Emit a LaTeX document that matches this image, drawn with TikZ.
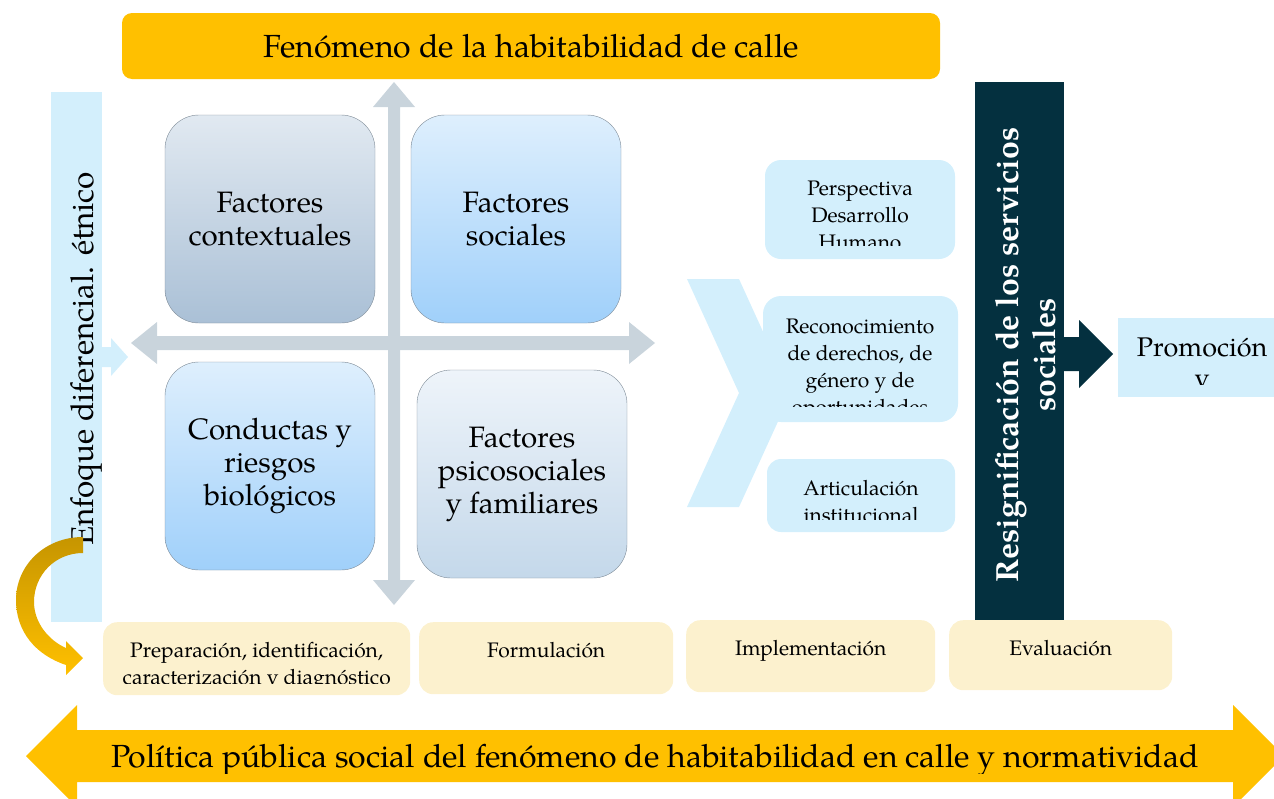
\documentclass[tikz,border=0pt]{standalone}
\usepackage{fontspec}
\setmainfont{TeX Gyre Pagella}
\usepackage{xcolor}
\usetikzlibrary{positioning}
\definecolor{gold}{HTML}{FFC000}
\definecolor{darkgold}{HTML}{C69500}
\definecolor{skyblue}{HTML}{D3EFFC}
\definecolor{crossgray}{HTML}{C9D4DC}
\definecolor{cream}{HTML}{FCF1CE}
\definecolor{navy}{HTML}{04303F}
\definecolor{edgegray}{HTML}{7D8A96}
\tikzset{
  quad/.style={draw=edgegray, rounded corners=34pt, minimum width=210, minimum height=208,
    align=center, font=\fontsize{29.5}{33}\selectfont},
  sidetext/.style={align=center, anchor=north, inner sep=0pt, font=\fontsize{21}{27}\selectfont},
  stagebox/.style={fill=cream, rounded corners=14pt, inner sep=0pt},
  stagetext/.style={align=center, anchor=north, inner sep=0pt, font=\fontsize{21}{27}\selectfont},
}
\begin{document}
\begin{tikzpicture}[x=1pt, y=-1pt]
\useasboundingbox (0,0) rectangle (1274,798);
%top bar
\node[fill=gold, rounded corners=10pt, minimum width=818, minimum height=66,
  font=\fontsize{32}{36}\selectfont] (fenomeno) at (531,46) {Fenómeno de la habitabilidad de calle};
%left bar
\fill[skyblue] (51,92) rectangle (102,622);
\node[rotate=90, font=\fontsize{31.5}{36}\selectfont] (enfoque) at (86,359) {Enfoque diferencial. étnico};
\fill[skyblue] (102,347) -- (111,347) -- (111,338) -- (128,357) -- (111,376) -- (111,367) -- (102,367) --cycle; %small arrow
%cross of arrows
\fill[crossgray] (388,580) -- (388,107) -- (373,107) -- (394,82) -- (415,107) -- (400,107) -- (400,580) -- (415,580) -- (394,605) -- (373,580) --cycle; %vertical
\fill[crossgray] (157,336) -- (629,336) -- (629,322) -- (655,343) -- (629,364) -- (629,350) -- (157,350) -- (157,364) -- (131,343) -- (157,322) --cycle; %horizontal
%four factors
\node[quad, top color={rgb,255:red,225;green,233;blue,241}, bottom color={rgb,255:red,170;green,192;blue,214}] (contexto) at (270,219) {Factores\\contextuales};
\node[quad, top color={rgb,255:red,222;green,239;blue,253}, bottom color={rgb,255:red,160;green,208;blue,250}] (social) at (516,219) {Factores\\sociales};
\node[quad, top color={rgb,255:red,222;green,239;blue,253}, bottom color={rgb,255:red,160;green,208;blue,250}] (conducta) at (270,466) {Conductas y\\riesgos\\biológicos};
\node[quad, top color={rgb,255:red,238;green,244;blue,250}, bottom color={rgb,255:red,196;green,216;blue,234}] (psico) at (522,474) {Factores\\psicosociales\\y familiares};
%chevron
\fill[skyblue] (687,279) -- (739,279) -- (791,393) -- (739,507) -- (687,507) -- (739,393) --cycle;
%right boxes
\fill[skyblue, rounded corners=16pt] (765,160) rectangle (955,259);
\begin{scope}
\clip (765,160) rectangle (955,245);
\node[sidetext] (perspectiva) at (860,181) {Perspectiva\\Desarrollo\\Humano};
\end{scope}
\fill[skyblue, rounded corners=18pt] (763,296) rectangle (958,422);
\begin{scope}
\clip (763,296) rectangle (958,406);
\node[sidetext] (derechos) at (860,319) {Reconocimiento\\de derechos, de\\género y de\\oportunidades};
\end{scope}
\fill[skyblue, rounded corners=14pt] (767,459) rectangle (955,532);
\begin{scope}
\clip (767,459) rectangle (955,519);
\node[sidetext] (articulacion) at (861,480) {Articulación\\institucional};
\end{scope}
%dark bar
\fill[navy] (975,82) rectangle (1064,620);
\node[rotate=90, text=white, align=center, font=\bfseries\fontsize{32}{37}\selectfont] (resignif) at (1026,355) {Resignificación de los servicios\\sociales};
\fill[navy] (1064,337) -- (1079,337) -- (1079,320) -- (1113,354) -- (1079,388) -- (1079,371) -- (1064,371) --cycle; %arrow
\fill[skyblue] (1118,318) rectangle (1274,397);
\begin{scope}
\clip (1118,318) rectangle (1274,384);
\node[sidetext, font=\fontsize{27}{31}\selectfont] (promocion) at (1202,338) {Promoción\\y};
\end{scope}
%stages
\node[stagebox, minimum width=307, minimum height=73, anchor=north west] (preparacion) at (103,622) {};
\node[stagebox, minimum width=254, minimum height=72, anchor=north west] (formulacion) at (419,622) {};
\node[stagebox, minimum width=249, minimum height=72, anchor=north west] (implementacion) at (686,620) {};
\node[stagebox, minimum width=223, minimum height=70, anchor=north west] (evaluacion) at (949,620) {};
\begin{scope}
\clip (103,622) rectangle (410,683);
\node[stagetext, below=20pt of preparacion.north] (preptext) {Preparación, identificación,\\caracterización y diagnóstico};
\end{scope}
\node[stagetext, below=20pt of formulacion.north] (formtext) {Formulación};
\node[stagetext, below=20pt of implementacion.north] (impltext) {Implementación};
\node[stagetext, below=20pt of evaluacion.north] (evaltext) {Evaluación};
%curved arrow
\shade[top color=darkgold, bottom color=gold, middle color=darkgold!50!gold]
  (83,537) .. controls (45,537) and (16,565) .. (16,600)
  .. controls (16,632) and (36,655) .. (66,665) -- (66,675) -- (83,658) -- (66,641) -- (66,648)
  .. controls (48,640) and (34,622) .. (34,602)
  .. controls (34,575) and (55,553) .. (83,553) --cycle;
%bottom double arrow
\begin{scope}
\clip (0,0) rectangle (1274,798);
\fill[gold] (77,730) -- (1233,730) -- (1233,705) -- (1284,756) -- (1233,807) -- (1233,782) -- (77,782) -- (77,807) -- (26,756) -- (77,705) --cycle;
\clip (0,0) rectangle (1274,773);
\node[font=\fontsize{32}{36}\selectfont] (politica) at (655,760) {Política pública social del fenómeno de habitabilidad en calle y normatividad};
\end{scope}
\end{tikzpicture}
\end{document}
